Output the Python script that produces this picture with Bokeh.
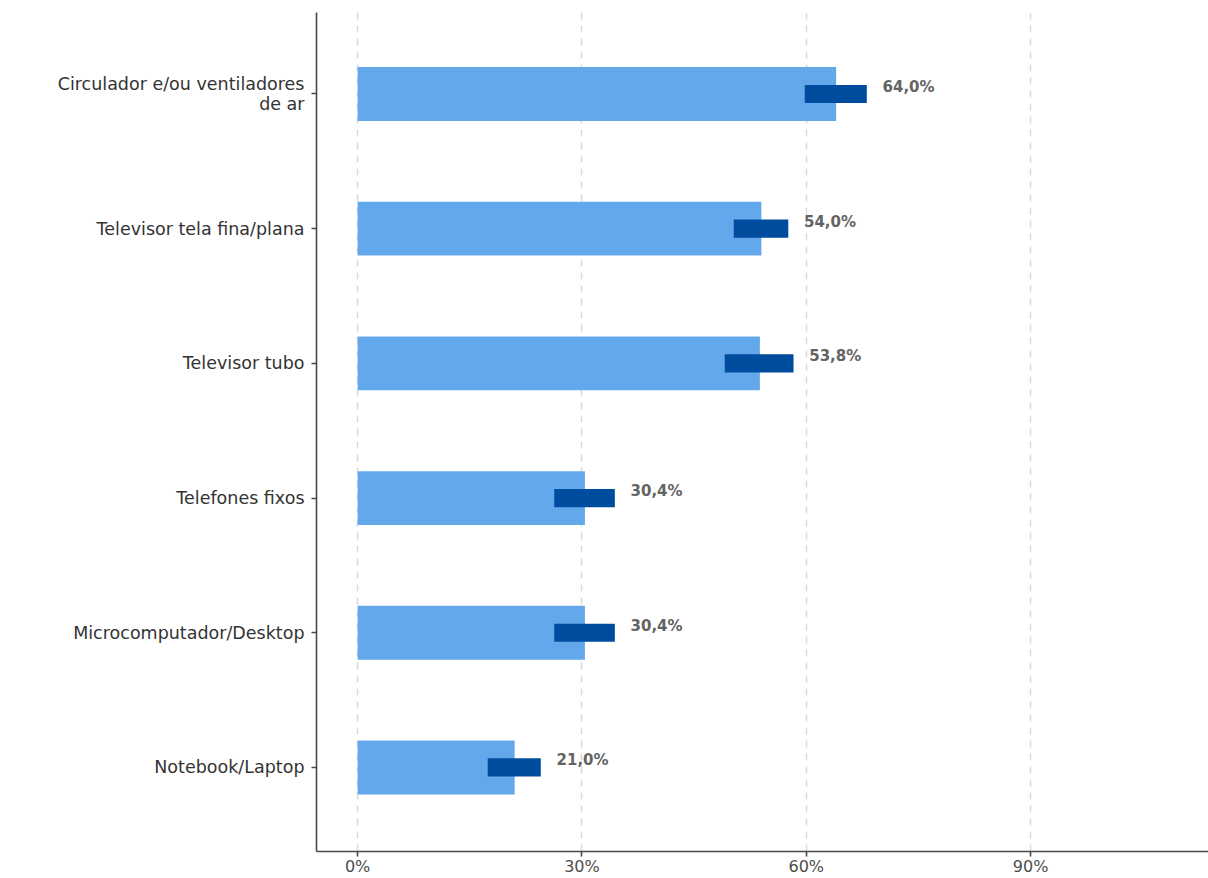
from bokeh.plotting import figure
from bokeh.models import ColumnDataSource, FixedTicker, Range1d
from bokeh.embed import file_html
from bokeh.resources import INLINE
from bokeh.core.properties import value

categories = ["Notebook/Laptop", "Microcomputador/Desktop", "Telefones fixos",
              "Televisor tubo", "Televisor tela fina/plana",
              "Circulador e/ou ventiladores\nde ar"]
values = [21.0, 30.4, 30.4, 53.8, 54.0, 64.0]
lower = [17.4, 26.3, 26.3, 49.1, 50.3, 59.8]
upper = [24.5, 34.4, 34.4, 58.3, 57.6, 68.1]
x_ticks = [0, 30, 60, 90]

FONT = "DejaVu Sans"
pos = list(range(1, len(categories) + 1))
labels = [f"{v:.1f}".replace(".", ",") + "%" for v in values]

src = ColumnDataSource(dict(y=pos, v=values, lo=lower, hi=upper,
                            lx=[h + 2.1 for h in upper], lab=labels))

p = figure(width=1208, height=878, output_backend="svg", toolbar_location=None,
           x_range=Range1d(-5.5, 113.8), y_range=Range1d(0.376, 6.605),
           min_border_left=316, min_border_right=0, min_border_top=12,
           min_border_bottom=26)
p.outline_line_color = None

p.hbar(y="y", left=0, right="v", height=0.4, source=src,
       fill_color="#64a8ec", line_color=None)
p.hbar(y="y", left="lo", right="hi", height=0.135, source=src,
       fill_color="#004c9e", line_color=None)
p.text(x="lx", y="y", text="lab", source=src, text_font=value(FONT),
       text_font_style="bold", text_font_size="15px", text_color="#636363",
       text_baseline="middle", text_align="left", y_offset=-7)

p.ygrid.grid_line_color = None
p.xgrid.grid_line_color = "#d9d9d9"
p.xgrid.grid_line_dash = "7 6"
p.xgrid.grid_line_width = 1.5
p.xaxis.ticker = FixedTicker(ticks=x_ticks)
p.xaxis.major_label_overrides = {t: f"{t}%" for t in x_ticks}
p.yaxis.ticker = FixedTicker(ticks=pos)
p.yaxis.major_label_overrides = {i: c for i, c in zip(pos, categories)}

for ax in (p.xaxis, p.yaxis):
    ax.axis_line_color = "#4d4842"
    ax.axis_line_width = 1.6
    ax.major_tick_line_color = "#4d4842"
    ax.major_tick_line_width = 1.6
    ax.major_tick_out = 5
    ax.major_tick_in = 0
    ax.minor_tick_line_color = None
    ax.major_label_text_font = FONT
    ax.major_label_text_font_size = "17.5px"
    ax.major_label_text_color = "#333333"
p.yaxis.major_label_text_line_height = 1.0
p.xaxis.major_label_text_color = "#4d4d4d"
p.xaxis.major_label_text_font_size = "16px"
p.xaxis.major_label_standoff = 0
p.yaxis.major_label_standoff = 7

open("out.html", "w").write(file_html(p, INLINE))
